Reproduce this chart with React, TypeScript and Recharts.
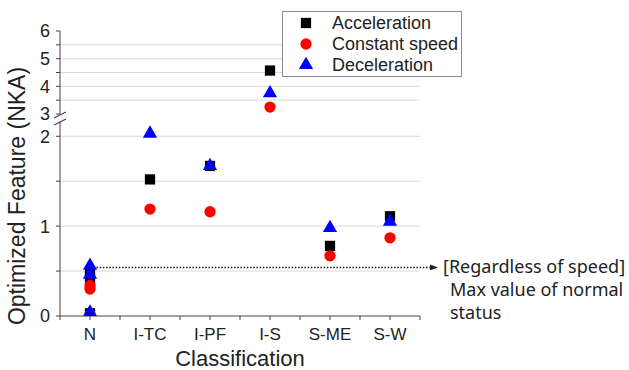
import React from 'react';
import { ScatterChart, Scatter, XAxis, YAxis, ReferenceLine, Legend, Symbols } from 'recharts';

const categories = ['N', 'I-TC', 'I-PF', 'I-S', 'S-ME', 'S-W'];

const accelerationValues: [string, number][] = [
  ['N', 0.47], ['N', 0.42], ['N', 0.03],
  ['I-TC', 1.52], ['I-PF', 1.67], ['I-S', 4.57], ['S-ME', 0.78], ['S-W', 1.11],
];
const constantValues: [string, number][] = [
  ['N', 0.34], ['N', 0.3], ['N', 0.02],
  ['I-TC', 1.19], ['I-PF', 1.16], ['I-S', 3.25], ['S-ME', 0.67], ['S-W', 0.87],
];
const decelerationValues: [string, number][] = [
  ['N', 0.56], ['N', 0.46], ['N', 0.04],
  ['I-TC', 2.03], ['I-PF', 1.67], ['I-S', 3.75], ['S-ME', 0.98], ['S-W', 1.05],
];

const xTicks = [-0.5, 0, 0.5, 1, 1.5, 2, 2.5, 3, 3.5, 4, 4.5, 5, 5.5];
const lowerTicks = [0, 0.5, 1, 1.5, 2];
const lowerGrid = [0.5, 1, 1.5, 2];
const upperTicks = [3, 3.5, 4, 4.5, 5, 5.5, 6];
const upperGrid = [3.5, 4, 4.5, 5, 5.5];
const lowerMax = 2.17;
const upperMin = 3;
const upperMax = 6;
const normalMax = 0.54;
const arrowEnd = 5.78;

const FONT = '"Liberation Sans", Arial, sans-serif';
const ANNOT_FONT = '"Noto Sans", "Open Sans", sans-serif';
const AXIS = '#444';

const toData = (vals: [string, number][]) =>
  vals.map(([c, v]) => ({ x: categories.indexOf(c), y: v }));

const series = [
  { name: 'Acceleration', values: accelerationValues, type: 'square', size: 105, fill: '#000000' },
  { name: 'Constant speed', values: constantValues, type: 'circle', size: 100, fill: '#ff0000' },
  { name: 'Deceleration', values: decelerationValues, type: 'triangle', size: 88, fill: '#0000ff' },
];

const makeShape = (type: any, size: number, fill: string) => (p: any) => (
  <Symbols cx={p.cx} cy={p.cy} type={type} size={size} fill={fill} />
);

const fmt = (v: number) => (Number.isInteger(v) ? String(v) : '');
const xFmt = (v: number) => (Number.isInteger(v) ? categories[v] ?? '' : '');

const ArrowLine = (p: any) => (
  <g>
    <defs>
      <marker id="arrowHead" markerWidth="8" markerHeight="6" refX="7" refY="3" orient="auto" markerUnits="userSpaceOnUse">
        <path d="M0,0 L8,3 L0,6 Z" fill="#222" />
      </marker>
    </defs>
    <line x1={p.x1} y1={p.y1} x2={p.x2} y2={p.y2} stroke="#222" strokeWidth={1.6} strokeDasharray="1.6 1.6" markerEnd="url(#arrowHead)" />
  </g>
);

const renderLegend = (props: any) => {
  const payload = props.payload || [];
  return (
    <div style={{ width: 180, height: 66, border: '1px solid #8a8a8a', background: '#fff', boxSizing: 'border-box' }}>
      <svg width={178} height={64}>
        {payload.map((entry: any, i: number) => {
          const s = series.find((q) => q.name === entry.value) || series[i];
          const cy = 11 + i * 21;
          return (
            <g key={entry.value}>
              <Symbols cx={23} cy={cy} type={s.type as any} size={s.size} fill={s.fill} />
              <text x={49} y={cy + 6.4} fontSize={18} fontFamily={FONT} fill="#222">{entry.value}</text>
            </g>
          );
        })}
      </svg>
    </div>
  );
};

const tickStyle = { fontSize: 18, fill: '#222', fontFamily: FONT };

export default function App() {
  return (
    <div style={{ position: 'absolute', left: 0, top: 0, width: 629, height: 370, background: '#fff' }}>
      <div style={{ position: 'absolute', left: 0, top: 0 }}>
        <ScatterChart width={629} height={370} margin={{ top: 121, right: 209, bottom: 24, left: 20 }}>
          {lowerGrid.map((v) => (
            <ReferenceLine key={v} y={v} stroke="#d9d9d9" strokeWidth={1} />
          ))}
          <XAxis
            type="number"
            dataKey="x"
            domain={[-0.5, 5.5]}
            ticks={xTicks}
            interval={0}
            tickFormatter={xFmt}
            allowDataOverflow
            stroke={AXIS}
            tick={{ fontSize: 17, fill: '#222', fontFamily: FONT }}
            tickSize={4}
            tickMargin={8}
            height={30}
            label={{ value: 'Classification', position: 'bottom', offset: 4, fontSize: 22, fill: '#222', fontFamily: FONT }}
          />
          <YAxis
            type="number"
            dataKey="y"
            domain={[0, lowerMax]}
            ticks={lowerTicks}
            interval={0}
            tickFormatter={fmt}
            allowDataOverflow
            width={40}
            stroke={AXIS}
            tick={tickStyle}
            tickSize={4}
            tickMargin={6}
          />
          <ReferenceLine
            segment={[{ x: 0, y: normalMax }, { x: arrowEnd, y: normalMax }]}
            ifOverflow="visible"
            shape={ArrowLine}
          />
          {series.map((s) => (
            <Scatter
              key={s.name}
              name={s.name}
              data={toData(s.values).filter((d) => d.y <= lowerMax)}
              fill={s.fill}
              shape={makeShape(s.type, s.size, s.fill)}
              isAnimationActive={false}
            />
          ))}
        </ScatterChart>
      </div>
      <div style={{ position: 'absolute', left: 0, top: 0 }}>
        <ScatterChart width={629} height={370} margin={{ top: 31, right: 209, bottom: 256, left: 20 }}>
          {upperGrid.map((v) => (
            <ReferenceLine key={v} y={v} stroke="#d9d9d9" strokeWidth={1} />
          ))}
          <XAxis type="number" dataKey="x" domain={[-0.5, 5.5]} hide allowDataOverflow />
          <YAxis
            type="number"
            dataKey="y"
            domain={[upperMin, upperMax]}
            ticks={upperTicks}
            interval={0}
            tickFormatter={fmt}
            allowDataOverflow
            width={40}
            stroke={AXIS}
            tick={tickStyle}
            tickSize={4}
            tickMargin={6}
          />
          <Legend
            layout="vertical"
            align="center"
            verticalAlign="middle"
            content={renderLegend}
            wrapperStyle={{ left: 282, top: 11, width: 180, height: 66 }}
          />
          {series.map((s) => (
            <Scatter
              key={s.name}
              name={s.name}
              data={toData(s.values).filter((d) => d.y >= upperMin)}
              fill={s.fill}
              shape={makeShape(s.type, s.size, s.fill)}
              isAnimationActive={false}
            />
          ))}
        </ScatterChart>
      </div>
      <svg width={629} height={370} style={{ position: 'absolute', left: 0, top: 0, pointerEvents: 'none' }}>
        <text
          x={25}
          y={196}
          transform="rotate(-90, 25, 196)"
          textAnchor="middle"
          fontSize={23}
          fontFamily={FONT}
          fill="#222"
        >
          Optimized Feature (NKA)
        </text>
        <line x1={54} y1={118} x2={66} y2={112} stroke={AXIS} strokeWidth={1.2} />
        <line x1={54} y1={125} x2={66} y2={119} stroke={AXIS} strokeWidth={1.2} />
        <text x={443} y={273} fontSize={18} fontFamily={ANNOT_FONT} fill="#222">[Regardless of speed]</text>
        <text x={450} y={296} fontSize={18} fontFamily={ANNOT_FONT} fill="#222">Max value of normal</text>
        <text x={450} y={319} fontSize={18} fontFamily={ANNOT_FONT} fill="#222">status</text>
      </svg>
    </div>
  );
}
